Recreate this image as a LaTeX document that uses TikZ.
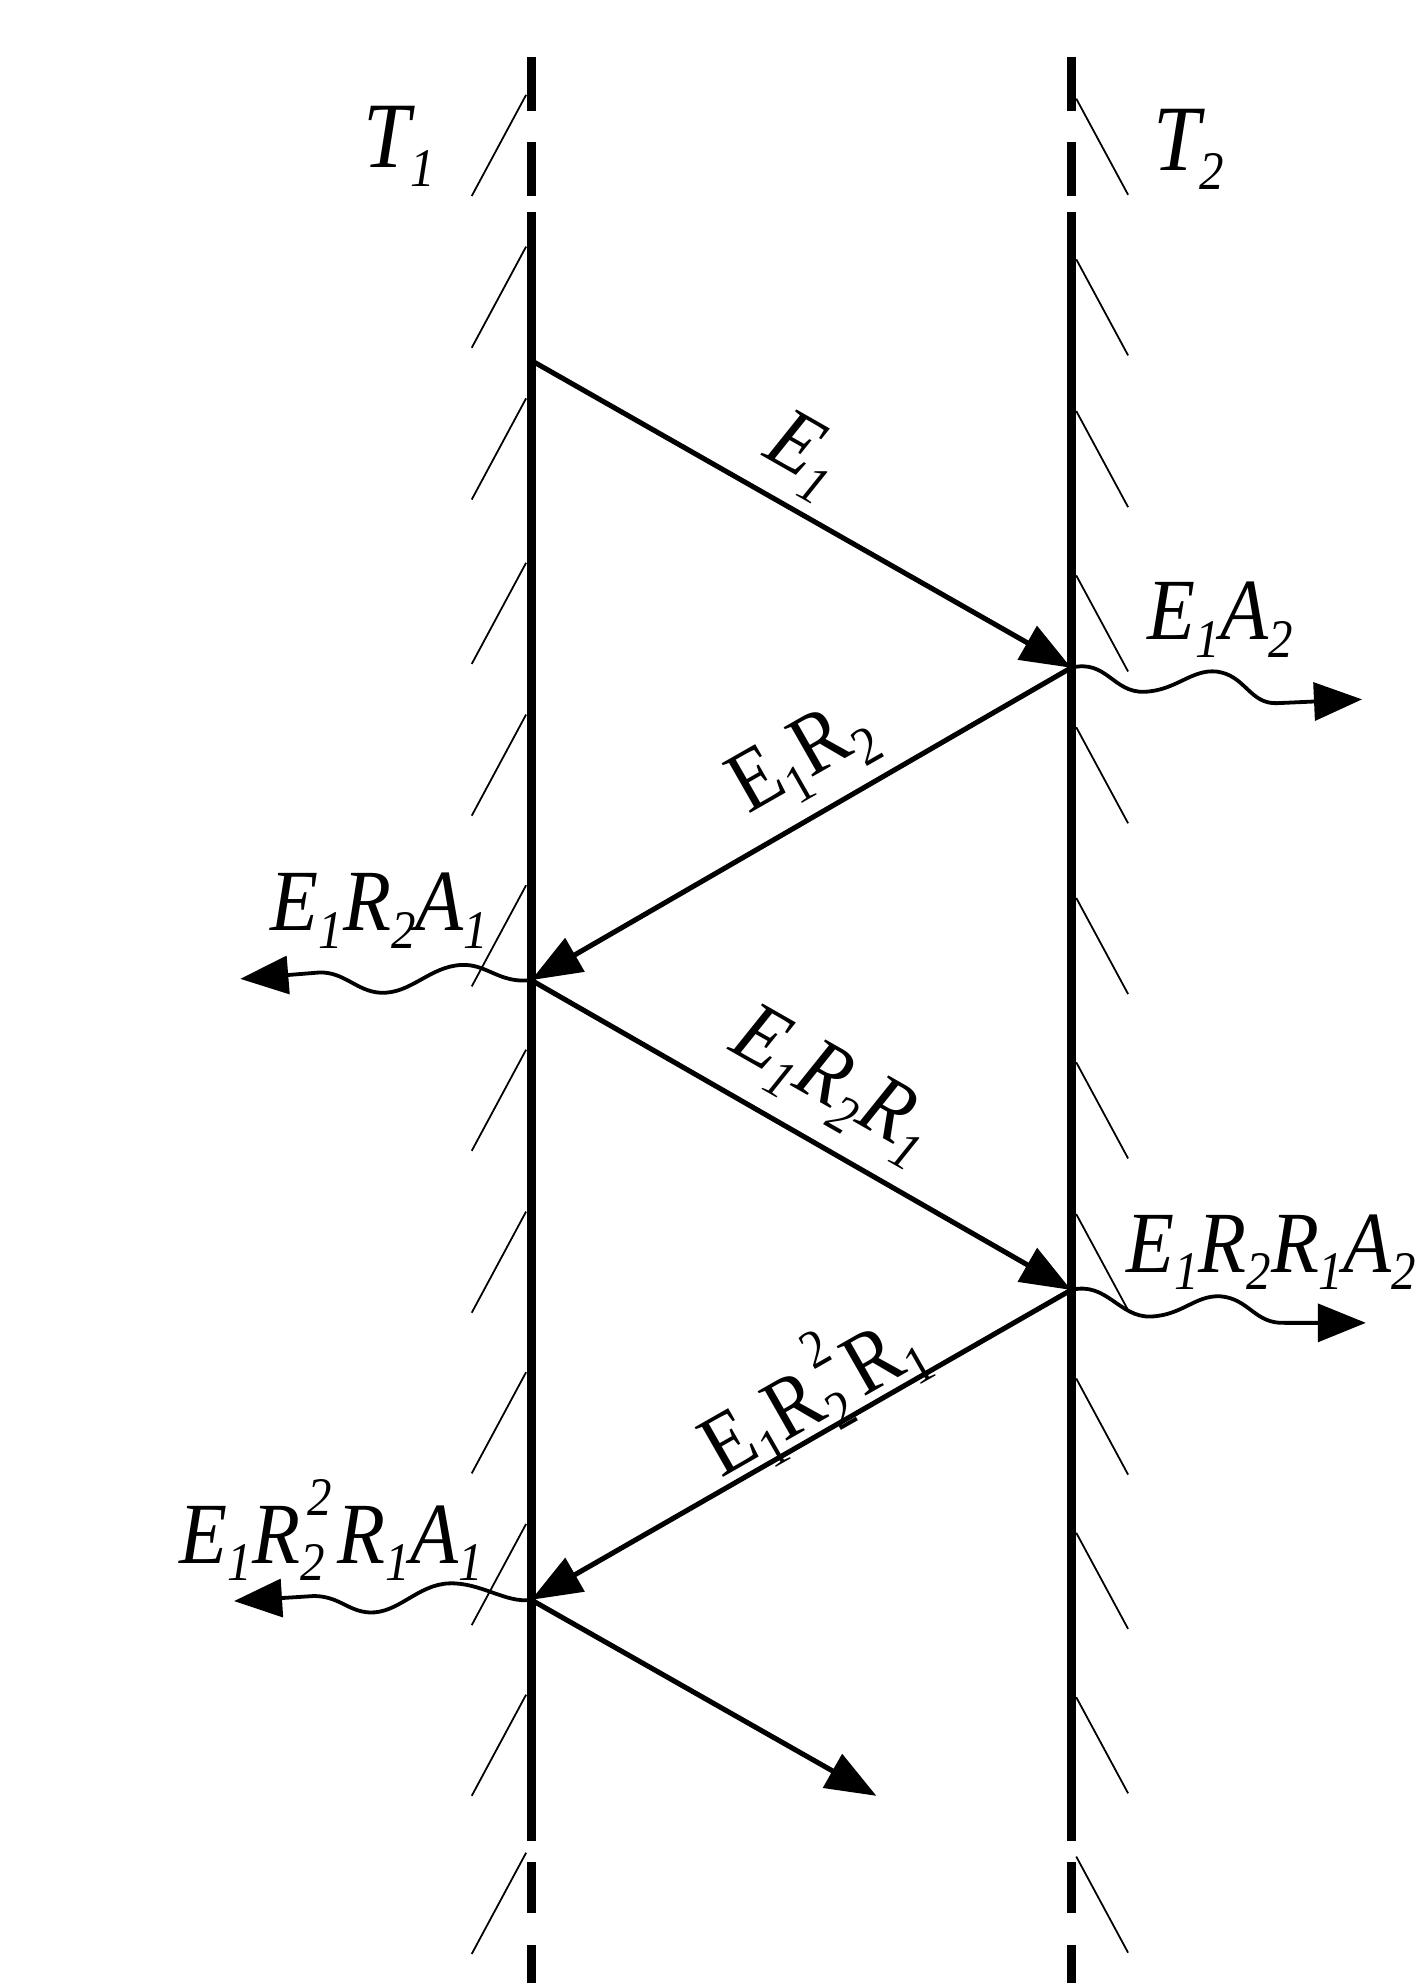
\documentclass[tikz,border=0pt]{standalone}
\usepackage{fontspec}
\setmainfont{Liberation Serif}[FakeStretch=0.9]
\usetikzlibrary{arrows.meta}
\newcommand{\lblsz}{\fontsize{69}{76}\selectfont}
\newcommand{\bigsz}{\fontsize{74}{80}\selectfont}
\newcommand{\subsz}{\fontsize{43}{46}\selectfont}
\newcommand{\lo}[1]{\raisebox{-0.2em}{\subsz #1}}
\newcommand{\lohi}[2]{\rlap{\raisebox{0.55em}{\subsz\hspace{0.14em}#2}}\raisebox{-0.2em}{\subsz #1}}
\begin{document}
\begin{tikzpicture}[x=1pt,y=-1pt,
  wall/.style={line width=7pt},
  hatch/.style={line width=1.4pt},
  ray/.style={line width=4pt,-{Triangle[length=40pt,width=30pt]}},
  wave/.style={line width=3pt,-{Triangle[length=38pt,width=30pt]}},
  lbl/.style={font=\lblsz\itshape, inner sep=0pt},
  tlbl/.style={font=\bigsz\itshape, inner sep=0pt},
  ulbl/.style={font=\lblsz, inner sep=0pt}]
\useasboundingbox (0,0) rectangle (1124,1568);

% walls
\foreach \x in {420,847}{
  \draw[wall] (\x,45) -- (\x,88);
  \draw[wall] (\x,112) -- (\x,155);
  \draw[wall] (\x,168) -- (\x,1456);
  \draw[wall] (\x,1472) -- (\x,1513);
  \draw[wall] (\x,1538) -- (\x,1568);
}
% hatches left
\foreach \y in {75,195,315,445,565,700,830,958,1085,1205,1340,1465}{
  \draw[hatch] (416,\y) -- (373,\y+80);
}
% hatches right
\foreach \y in {78,205,325,455,575,710,840,960,1090,1212,1342,1468}{
  \draw[hatch] (851,\y) -- (892,\y+76);
}

% reflection points
\coordinate (A) at (420,285);
\coordinate (B) at (847,528);
\coordinate (C) at (420,775);
\coordinate (D) at (847,1020);
\coordinate (E) at (420,1265);
\coordinate (F) at (693,1420);
\coordinate (W1) at (1077,553);
\coordinate (W2) at (190,774);
\coordinate (W3) at (1080,1046);
\coordinate (W4) at (185,1266);

\draw[ray] (A) -- (B);
\draw[ray] (B) -- (C);
\draw[ray] (C) -- (D);
\draw[ray] (D) -- (E);
\draw[ray] (E) -- (F);

\draw[wave] (B) .. controls (875,521) and (880,548) .. (905,547)
  .. controls (930,546) and (942,529) .. (962,531)
  .. controls (985,534) and (988,557) .. (1010,556) -- (W1);
\draw[wave] (D) .. controls (875,1013) and (885,1042) .. (910,1041)
  .. controls (935,1040) and (945,1024) .. (965,1025)
  .. controls (988,1027) and (992,1047) .. (1016,1046) -- (W3);
\draw[wave] (C) .. controls (395,778) and (385,762) .. (365,763)
  .. controls (340,764) and (325,786) .. (301,785)
  .. controls (282,784) and (272,768) .. (252,769) -- (W2);
\draw[wave] (E) .. controls (400,1268) and (380,1251) .. (355,1252)
  .. controls (330,1253) and (315,1276) .. (292,1275)
  .. controls (275,1274) and (268,1262) .. (248,1262) -- (W4);

% labels
\node[tlbl] (t1) at (316,116) {T\lo{1}};
\node[tlbl] (t2) at (940,118) {T\lo{2}};
\node[lbl] (la2) at (965,490) {E\lo{1}A\lo{2}};
\node[lbl] (la1) at (300,720) {E\lo{1}R\lo{2}A\lo{1}};
\node[lbl] (la3) at (1005,990) {E\lo{1}R\lo{2}R\lo{1}A\lo{2}};
\node[lbl] (la4) at (262,1210) {E\lo{1}R\lohi{2}{2}\hspace{0.15em}R\lo{1}A\lo{1}};

\node[lbl,rotate=-29.7] (le1) at (635,361) {E\lo{1}};
\node[ulbl,rotate=29.7] (le2) at (635,601) {E\lo{1}R\lo{2}};
\node[lbl,rotate=-29.7] (le3) at (658,859) {E\lo{1}R\lo{2}R\lo{1}};
\node[ulbl,rotate=29.7] (le4) at (640,1099) {E\lo{1}R\lohi{2}{2}\hspace{0.15em}R\lo{1}};
\end{tikzpicture}
\end{document}
